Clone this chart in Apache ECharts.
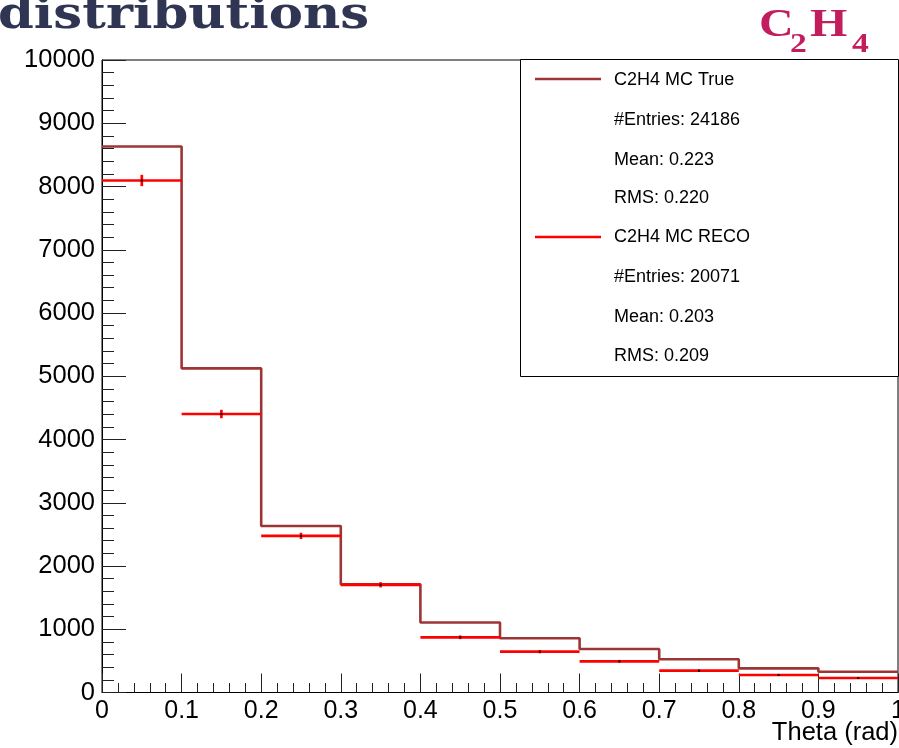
<!DOCTYPE html>
<html>
<head>
<meta charset="utf-8">
<script src="https://cdn.jsdelivr.net/npm/echarts@6/dist/echarts.min.js"></script>
<style>
  html, body { margin: 0; padding: 0; background: #fff; overflow: hidden; }
  #chart { width: 899px; height: 748px; }
</style>
</head>
<body>
<div id="chart"></div>
<script>
// Theta histograms, 10 bins of 0.1 rad
const binLow  = [0, 0.1, 0.2, 0.3, 0.4, 0.5, 0.6, 0.7, 0.8, 0.9];
const binHigh = [0.1, 0.2, 0.3, 0.4, 0.5, 0.6, 0.7, 0.8, 0.9, 1.0];
const trueCounts = [8632, 5125, 2633, 1710, 1107, 858, 688, 525, 382, 329];
const recoCounts = [8095, 4403, 2476, 1703, 873, 645, 493, 345, 277, 229];
const xTickLabels = ['0', '0.1', '0.2', '0.3', '0.4', '0.5', '0.6', '0.7', '0.8', '0.9', '1'];
const yTickLabels = ['0', '1000', '2000', '3000', '4000', '5000', '6000', '7000', '8000', '9000', '10000'];
const statsTrue = ['C2H4 MC True', '#Entries: 24186', 'Mean: 0.223', 'RMS: 0.220'];
const statsReco = ['C2H4 MC RECO', '#Entries: 20071', 'Mean: 0.203', 'RMS: 0.209'];

const TRUE_COLOR = '#9e3535';
const RECO_COLOR = '#ff0000';
const SANS = '"Liberation Sans", Arial, Helvetica, sans-serif';
const SERIF = '"Liberation Serif", "Times New Roman", serif';
const FORMULA_COLOR = '#c21d5d';

// step outline: one point per bin low edge plus the closing edge
const trueStep = binLow.map((x, i) => [x, trueCounts[i]]);
trueStep.push([binHigh[binHigh.length - 1], trueCounts[trueCounts.length - 1]]);

// reconstructed bins with Poisson errors
const recoData = binLow.map((x, i) => [x, binHigh[i], recoCounts[i], Math.sqrt(recoCounts[i])]);

const chart = echarts.init(document.getElementById('chart'), null, { renderer: 'canvas' });

// stats box entries
const legendX = 520.5, legendTop = 59.5, legendW = 378, legendH = 317;
const rowY = [81, 121, 161, 199, 238, 278, 318, 357];
const legendRows = statsTrue.concat(statsReco);
const legendGraphics = [
  { type: 'rect', shape: { x: legendX, y: legendTop, width: legendW, height: legendH },
    style: { fill: '#fff', stroke: '#000', lineWidth: 1 }, z: 10 },
  { type: 'line', shape: { x1: 535, y1: 79, x2: 601, y2: 79 },
    style: { stroke: TRUE_COLOR, lineWidth: 2.7 }, z: 11 },
  { type: 'line', shape: { x1: 535, y1: 237, x2: 601, y2: 237 },
    style: { stroke: RECO_COLOR, lineWidth: 2.7 }, z: 11 }
].concat(legendRows.map((t, i) => ({
  type: 'text', left: 614, top: rowY[i] - 9.5, z: 11,
  style: { text: t, fontFamily: SANS, fontSize: 18, fill: '#000' }
})));

// chemical formula C2H4 with subscripts
function formulaPart(text, x, y, size) {
  return {
    type: 'text', x: x, y: y, scaleX: 1.2, z: 20,
    style: { text: text, x: 0, y: 0, verticalAlign: 'top', fontFamily: SERIF,
             fontWeight: 'bold', fontSize: size, fill: FORMULA_COLOR }
  };
}

const option = {
  animation: false,
  backgroundColor: '#fff',
  grid: {
    left: 102, right: 1, top: 60, bottom: 55.5,
    outerBoundsMode: 'none', containLabel: false,
    show: true, borderColor: '#000', borderWidth: 1
  },
  xAxis: {
    type: 'value', min: 0, max: 1, interval: 0.1,
    axisLine: { show: true, onZero: false, lineStyle: { color: '#000', width: 1 } },
    axisTick: { show: true, inside: true, length: 19, lineStyle: { color: '#222', width: 1 } },
    minorTick: { show: true, splitNumber: 5, length: 9.5, lineStyle: { color: '#222', width: 1 } },
    splitLine: { show: false },
    axisLabel: {
      fontFamily: SANS, fontSize: 25, color: '#000', margin: 6,
      hideOverlap: false,
      formatter: v => xTickLabels[Math.round(v * 10)]
    }
  },
  yAxis: {
    type: 'value', min: 0, max: 10000, interval: 1000,
    axisLine: { show: true, onZero: false, lineStyle: { color: '#000', width: 1 } },
    axisTick: { show: true, inside: true, length: 24, lineStyle: { color: '#222', width: 1 } },
    minorTick: { show: true, splitNumber: 5, length: 12, lineStyle: { color: '#222', width: 1 } },
    splitLine: { show: false },
    axisLabel: {
      fontFamily: SANS, fontSize: 25.5, color: '#000', margin: 7,
      hideOverlap: false,
      formatter: v => yTickLabels[Math.round(v / 1000)]
    }
  },
  series: [
    {
      name: 'C2H4 MC True', type: 'line', step: 'end', symbol: 'none',
      data: trueStep,
      lineStyle: { color: TRUE_COLOR, width: 2.6 },
      z: 3
    },
    {
      name: 'C2H4 MC RECO', type: 'custom',
      data: recoData,
      encode: { x: [0, 1], y: [2] },
      renderItem: (params, api) => {
        const lo = api.value(0), hi = api.value(1), v = api.value(2), e = api.value(3);
        const mid = (lo + hi) / 2;
        const pL = api.coord([lo, v]);
        const pR = api.coord([hi, v]);
        const pT = api.coord([mid, v + e]);
        const pB = api.coord([mid, v - e]);
        return {
          type: 'group',
          children: [
            { type: 'line', shape: { x1: pL[0], y1: pL[1], x2: pR[0], y2: pR[1] },
              style: { stroke: RECO_COLOR, lineWidth: 2.7 } },
            { type: 'line', shape: { x1: pT[0], y1: pT[1], x2: pB[0], y2: pB[1] },
              style: { stroke: RECO_COLOR, lineWidth: 2.7 } },
            { type: 'rect', shape: { x: pT[0] - 1, y: pL[1] - 1, width: 2, height: 2 },
              style: { fill: '#000' } }
          ]
        };
      },
      z: 4
    }
  ],
  graphic: [
    { type: 'text', x: -2, y: -6.5, scaleX: 1.14, scaleY: 1, z: 20,
      style: { text: 'distributions', x: 0, y: 0, verticalAlign: 'top',
               fontFamily: '"DejaVu Serif", serif', fontWeight: 'bold',
               fontSize: 45, fill: '#2f3552' } },
    formulaPart('C', 759, 6, 40),
    formulaPart('2', 790, 30.5, 28),
    formulaPart('H', 810, 6, 40),
    formulaPart('4', 852, 30.5, 28),
    { type: 'text', right: 1, top: 720, z: 20,
      style: { text: 'Theta (rad)', fontFamily: SANS, fontSize: 25.5, fill: '#000' } }
  ].concat(legendGraphics)
};

chart.setOption(option);
</script>
</body>
</html>
